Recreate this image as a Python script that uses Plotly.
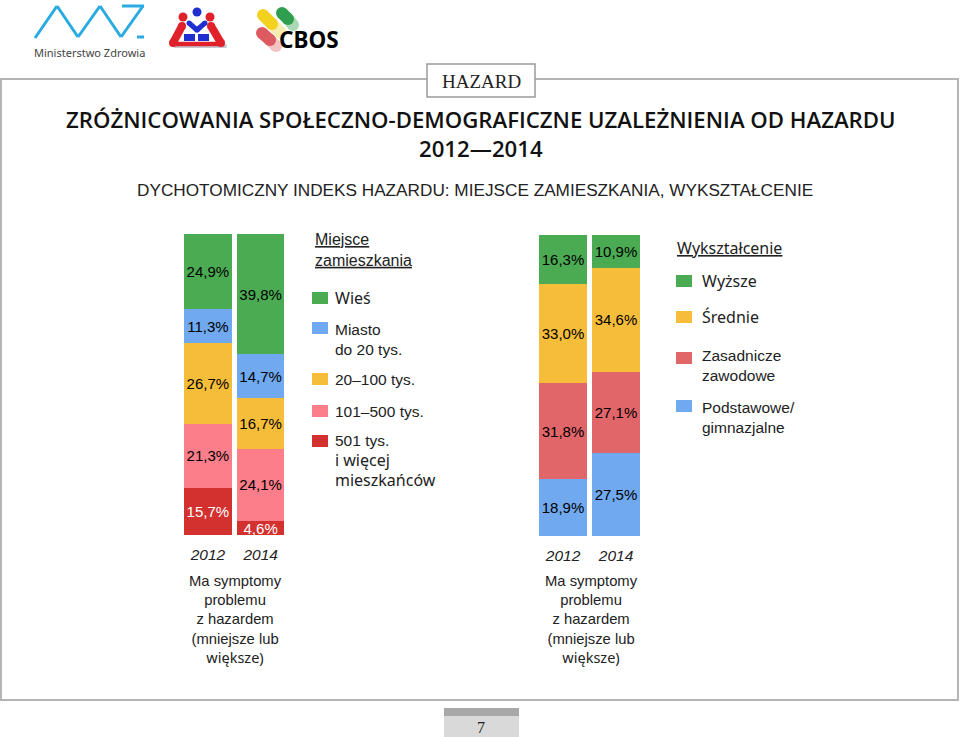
import plotly.graph_objects as go

W, H = 960, 737

years = ['2012', '2014']

# miejsce zamieszkania, od dolu slupka
place_names = ['501 tys.', '101–500 tys.', '20–100 tys.', 'Miasto do 20 tys.', 'Wieś']
place_2012 = [15.7, 21.3, 26.7, 11.3, 24.9]
place_2014 = [4.6, 24.1, 16.7, 14.7, 39.8]
place_colors = ['#d33130', '#fb7e8a', '#f6bd3b', '#70a9ef', '#4bab53']
place_text = ['white', 'black', 'black', 'black', 'black']

# wyksztalcenie, od dolu slupka
edu_names = ['Podstawowe/gimnazjalne', 'Zasadnicze zawodowe', 'Średnie', 'Wyższe']
edu_2012 = [18.9, 31.8, 33.0, 16.3]
edu_2014 = [27.5, 27.1, 34.6, 10.9]
edu_colors = ['#70a9ef', '#e1666a', '#f6bd3b', '#4bab53']

FONT = 'Liberation Sans'
TXT = '#222222'


def px(x):
    return x / W


def py(y):
    return 1 - y / H


def pct(v):
    return f'{v:.1f}%'.replace('.', ',')


def noto(text, size=16):
    return f'<span style="font-family:Noto Sans;font-size:{size}px">{text}</span>'


fig = go.Figure()

for i, name in enumerate(place_names):
    vals = [place_2012[i], place_2014[i]]
    fig.add_trace(go.Bar(
        x=years, y=vals, name=name, xaxis='x', yaxis='y',
        marker={'color': place_colors[i], 'line': {'width': 0}},
        text=[pct(v) for v in vals],
        textposition='inside', insidetextanchor='middle', textangle=0,
        constraintext='none',
        textfont={'color': place_text[i], 'size': 15, 'family': FONT},
    ))

for i, name in enumerate(edu_names):
    vals = [edu_2012[i], edu_2014[i]]
    fig.add_trace(go.Bar(
        x=years, y=vals, name=name, xaxis='x2', yaxis='y2',
        marker={'color': edu_colors[i], 'line': {'width': 0}},
        text=[pct(v) for v in vals],
        textposition='inside', insidetextanchor='middle', textangle=0,
        constraintext='none',
        textfont={'color': 'black', 'size': 15, 'family': FONT},
    ))

shapes = []
notes = []


def rect(x0, y0, x1, y1, fill, line=None, lw=0, layer='below'):
    shapes.append(dict(type='rect', xref='paper', yref='paper', layer=layer,
                       x0=px(x0), x1=px(x1), y0=py(y0), y1=py(y1),
                       fillcolor=fill, line={'color': line or fill, 'width': lw}))


def seg(x0, y0, x1, y1, color, lw):
    shapes.append(dict(type='line', xref='paper', yref='paper', layer='below',
                       x0=px(x0), x1=px(x1), y0=py(y0), y1=py(y1),
                       line={'color': color, 'width': lw}))


def dot(x, y, r, color):
    shapes.append(dict(type='circle', xref='paper', yref='paper', layer='below',
                       x0=px(x - r), x1=px(x + r), y0=py(y + r), y1=py(y - r),
                       fillcolor=color, line={'width': 0}))


def pill(x0, y0, x1, y1, color, lw):
    seg(x0, y0, x1, y1, color, lw)
    dot(x0, y0, lw / 2, color)
    dot(x1, y1, lw / 2, color)


def label(x, y, text, size=15, family=FONT, color=TXT, anchor='left', **font):
    # adnotacja ma ok. 2px wlasnego marginesu z lewej
    if anchor == 'left':
        x -= 2
    notes.append(dict(xref='paper', yref='paper', x=px(x), y=py(y), text=text,
                      showarrow=False, xanchor=anchor, yanchor='middle', align=anchor,
                      font=dict(size=size, family=family, color=color, **font)))


# ramka strony
rect(1, 79, 958, 700, 'white', '#b4b4b4', 2)
rect(427, 64, 535, 97, 'white', '#9a9a9a', 1.5)
label(481, 81, 'HAZARD', 19, 'Liberation Serif', anchor='center')
rect(444, 708, 519, 737, '#d9d9d9')
rect(444, 708, 519, 716, '#a8a8a8')
label(481, 727, '7', 16, 'Liberation Serif', anchor='center')

# logo ministerstwa
zig = [(35, 38), (57, 6), (78, 37), (100, 6), (121, 37), (143, 6)]
for a, b in zip(zig, zig[1:]):
    seg(a[0], a[1], b[0], b[1], '#29abe2', 3)
seg(122, 6, 144, 6, '#29abe2', 3)
seg(137, 37, 144, 37, '#29abe2', 3)
label(89, 52, 'Ministerstwo Zdrowia', 11, 'Noto Sans', '#444444', 'center')

# logo srodkowe
pill(175, 46, 225, 46, '#c8c8d0', 4)
dot(197, 12, 4.5, '#1f2fd0')
dot(183, 17, 4.5, '#e0202a')
dot(210, 17, 4.5, '#e0202a')
pill(182, 26, 173, 43, '#e0202a', 8)
pill(211, 26, 221, 43, '#e0202a', 8)
pill(189, 23, 197, 30, '#1f2fd0', 5)
pill(205, 23, 197, 30, '#1f2fd0', 5)
pill(173, 44, 221, 44, '#e0202a', 4.5)
rect(184, 34, 195, 41, '#1f2fd0')
rect(198, 34, 209, 41, '#1f2fd0')

# logo CBOS
pill(270, 22, 281, 33, '#f7ecb0', 12)
pill(263, 15, 272, 24, '#f2d21f', 12)
pill(288, 19, 293, 25, '#a8d8b4', 12)
pill(282, 13, 288, 19, '#2f9e4f', 12)
pill(270, 40, 276, 46, '#f2c4c4', 12)
pill(262, 33, 270, 40, '#dd5a60', 12)
label(279, 40, '<b>CBOS</b>', 22.5, 'Noto Sans', 'black')

# tytuly
label(481, 119, 'ZRÓŻNICOWANIA SPOŁECZNO-DEMOGRAFICZNE UZALEŻNIENIA OD HAZARDU',
      22.2, 'Open Sans', '#111111', anchor='center', weight=600)
label(481, 149, '2012—2014', 22.2, 'Open Sans', '#111111', anchor='center', weight=600)
label(475, 190, 'DYCHOTOMICZNY INDEKS HAZARDU: MIEJSCE ZAMIESZKANIA, WYKSZTAŁCENIE',
      17.2, anchor='center')

# legendy
label(315, 250, 'Miejsce<br>zamieszkania', 16, lineposition='under')
place_legend = [(298, noto('Wieś'), 4), (339, 'Miasto<br>do 20 tys.', 3), (379, '20–100 tys.', 2),
                (411, '101–500 tys.', 1),
                (461, '501 tys.<br>' + noto('i więcej') + '<br>' + noto('mieszkańców'), 0)]
box_y = [298, 328, 379, 411, 441]
for (y, text, c), by in zip(place_legend, box_y):
    rect(312, by - 6, 328, by + 6, place_colors[c])
    label(335, y, text, 15.5)

label(677, 248, 'Wykształcenie', 16, 'Noto Sans', lineposition='under')
edu_legend = [(281, 281, 'Wyższe', 3, 'Noto Sans', 16), (317, 317, 'Średnie', 2, 'Noto Sans', 16),
              (358, 365, 'Zasadnicze<br>zawodowe', 1, FONT, 15.5), (406, 417, 'Podstawowe/<br>gimnazjalne', 0, FONT, 15.5)]
for by, y, text, c, fam, size in edu_legend:
    rect(676, by - 6, 692, by + 6, edu_colors[c])
    label(702, y, text, size, fam)

# opisy pod wykresami
note = 'Ma symptomy<br>problemu<br>z hazardem<br>(mniejsze lub<br>' + noto('większe)', 14.5)
label(235, 620, note, 14.8, anchor='center')
label(591, 620, note, 14.8, anchor='center')

tick = dict(type='category', tickfont={'size': 15.5, 'family': FONT, 'style': 'italic', 'color': TXT},
            ticks='outside', ticklen=5, tickcolor='rgba(0,0,0,0)', showline=False, showgrid=False)
val = dict(range=[0, 100], visible=False, fixedrange=True)

fig.update_layout(
    width=W, height=H,
    margin={'l': 0, 'r': 0, 't': 0, 'b': 0},
    paper_bgcolor='white', plot_bgcolor='rgba(0,0,0,0)',
    barmode='stack', bargap=0.1,
    showlegend=False,
    shapes=shapes, annotations=notes,
    xaxis=dict(domain=[px(181.5), px(287)], anchor='y', **tick),
    yaxis=dict(domain=[py(535), py(234)], anchor='x', **val),
    xaxis2=dict(domain=[px(536.5), px(642.5)], anchor='y2', **tick),
    yaxis2=dict(domain=[py(536), py(235)], anchor='x2', **val),
)

fig.write_html('out.html', config={'displayModeBar': False},
               post_script="document.body.style.margin='0';document.body.style.overflow='hidden';")
